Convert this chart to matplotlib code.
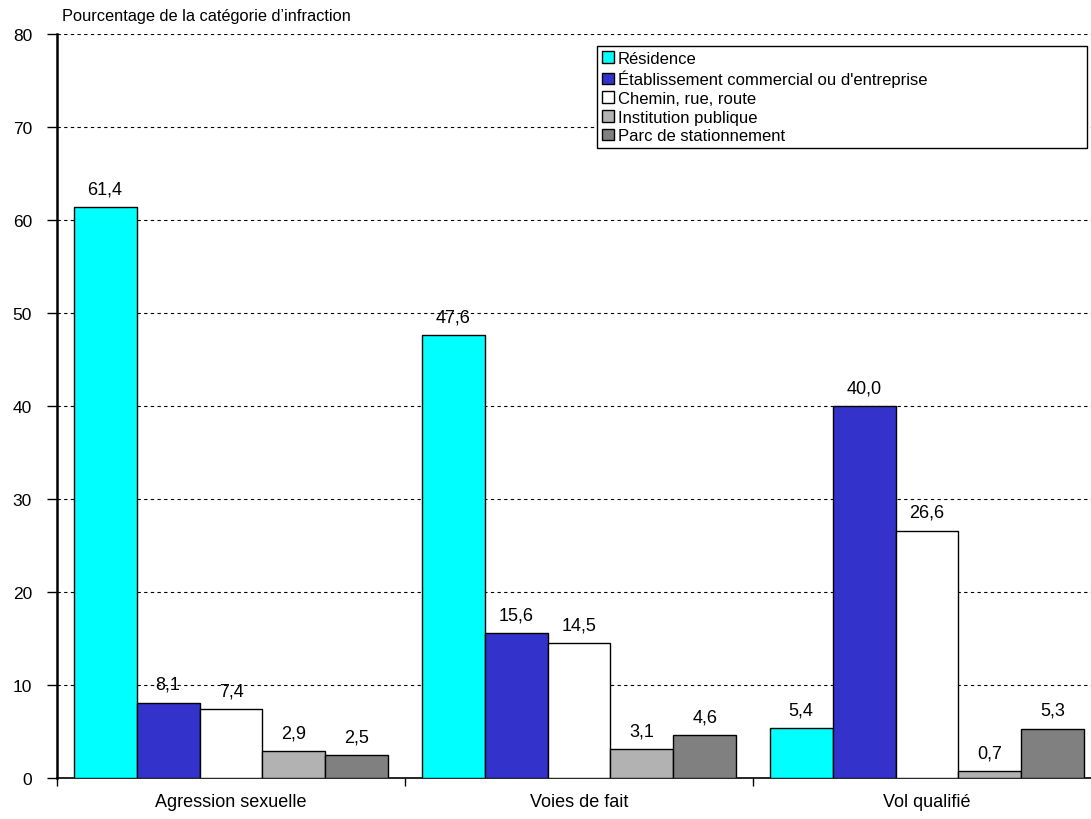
import matplotlib
matplotlib.use("Agg")
import matplotlib.pyplot as plt
from matplotlib.patches import Patch
import numpy as np

plt.rcParams['font.family'] = ['Liberation Sans', 'DejaVu Sans']

categories = ["Agression sexuelle", "Voies de fait", "Vol qualifié"]
series_names = [
    "Résidence",
    "Établissement commercial ou d'entreprise",
    "Chemin, rue, route",
    "Institution publique",
    "Parc de stationnement",
]
residence = [61.4, 47.6, 5.4]
commercial = [8.1, 15.6, 40.0]
chemin = [7.4, 14.5, 26.6]
institution = [2.9, 3.1, 0.7]
stationnement = [2.5, 4.6, 5.3]
series_values = [residence, commercial, chemin, institution, stationnement]
colors = ["#00FFFF", "#3333CC", "#FFFFFF", "#B2B2B2", "#808080"]
y_ticks = [0, 10, 20, 30, 40, 50, 60, 70, 80]

W, H = 1091, 820
fig = plt.figure(figsize=(W / 100, H / 100), dpi=100)
ax = fig.add_axes([57 / W, 41 / H, 1044 / W, 744 / H])

n = len(series_names)
bar_w = 0.181
centers = np.arange(len(categories)) + 0.5
for j, (name, vals, col) in enumerate(zip(series_names, series_values, colors)):
    xs = centers + (j - (n - 1) / 2) * bar_w
    bars = ax.bar(xs, vals, width=bar_w, color=col, edgecolor="black",
                  linewidth=1.0, zorder=3)
    for b, v in zip(bars, vals):
        ax.annotate(f"{v:.1f}".replace(".", ","),
                    (b.get_x() + b.get_width() / 2, v),
                    xytext=(0, 7), textcoords="offset points",
                    ha="center", va="bottom", fontsize=13)

ax.set_xlim(0, 3)
ax.set_ylim(0, 80)
ax.set_yticks(y_ticks)
ax.set_yticklabels([str(t) for t in y_ticks], fontsize=12.5)
ax.tick_params(axis="y", direction="out", length=7, width=1, pad=11)

ax.set_xticks(centers)
ax.set_xticklabels(categories, fontsize=13)
ax.set_xticks([0, 1, 2, 3], minor=True)
ax.tick_params(axis="x", which="major", length=0, pad=11)
ax.tick_params(axis="x", which="minor", direction="out", length=6, width=1)

for y in y_ticks[1:]:
    ax.axhline(y, color="black", linewidth=0.8, linestyle=(0, (3, 3)), zorder=1)

for side in ("top", "right"):
    ax.spines[side].set_visible(False)
ax.spines["left"].set_linewidth(1.8)
ax.spines["bottom"].set_linewidth(1.2)

fig.text(62 / W, 1 - 16 / H, "Pourcentage de la catégorie d’infraction",
         fontsize=11.8, ha="left", va="center")

handles = [Patch(facecolor=c, edgecolor="black", linewidth=1) for c in colors]
leg = fig.legend(handles, series_names,
                 loc="upper left",
                 bbox_to_anchor=(597 / W, 1 - 153 / H, 490 / W, 106 / H),
                 mode="expand", borderaxespad=0, fontsize=12,
                 handlelength=0.7, handleheight=0.7, handletextpad=0.25,
                 labelspacing=0.22, borderpad=0.3, fancybox=False,
                 framealpha=1, edgecolor="black")
leg.get_frame().set_linewidth(1.0)

fig.savefig("out.png", dpi=100)
